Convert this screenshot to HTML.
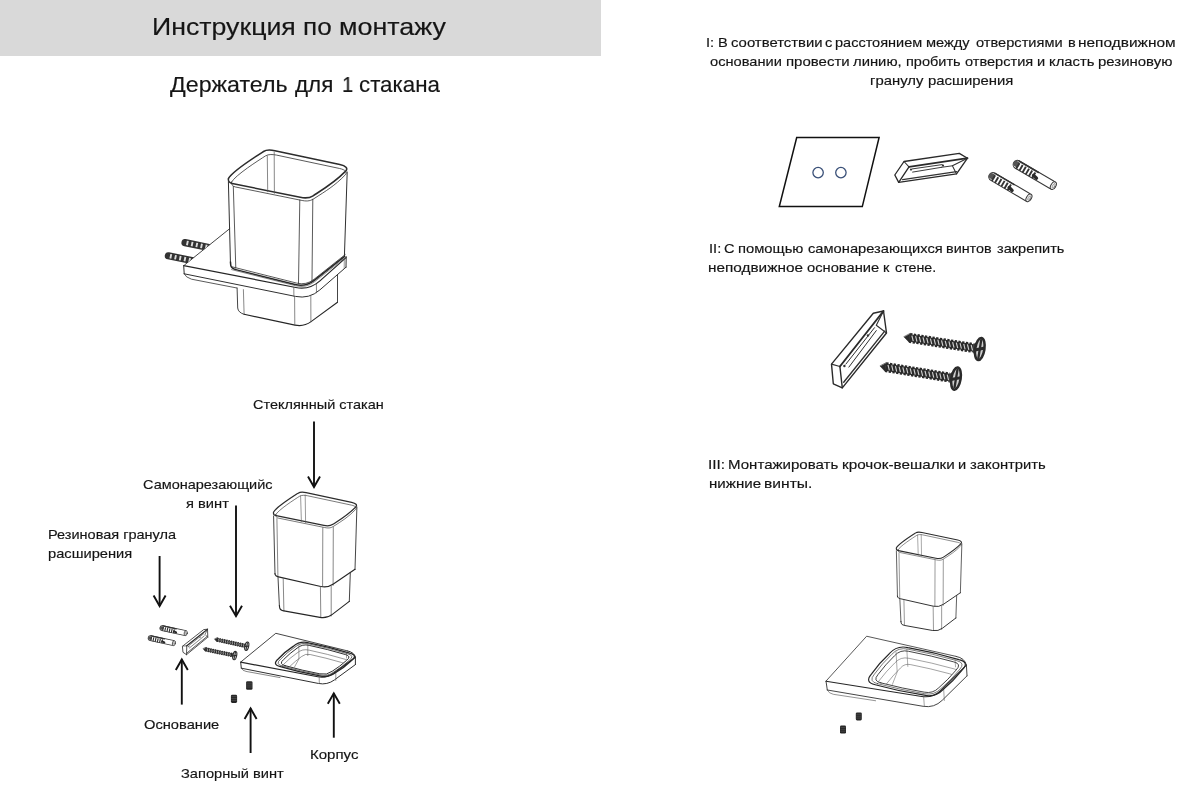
<!DOCTYPE html>
<html lang="ru">
<head>
<meta charset="utf-8">
<title>Инструкция по монтажу</title>
<style>
html,body{margin:0;padding:0;background:#fff;}
body{width:1178px;height:787px;position:relative;overflow:hidden;font-family:"Liberation Sans",sans-serif;}
.hd{position:absolute;left:0;top:0;width:601px;height:56px;background:#d9d9d9;}
.t{position:absolute;white-space:nowrap;transform-origin:0 0;font-family:"Liberation Sans",sans-serif;font-weight:400;will-change:transform;-webkit-text-stroke:0.16px currentColor;}
svg{position:absolute;left:0;top:0;}
</style>
</head>
<body>
<div class="hd"></div>
<svg width="1178" height="787" viewBox="0 0 1178 787" stroke-linecap="round" stroke-linejoin="round">
<path d="M314.0 421.4L314.0 487.0852137847791" stroke="#111" stroke-width="1.9" fill="none" stroke-linecap="butt"/>
<path d="M308.0 476.5852137847791L314.0 487.0852137847791L320.0 476.5852137847791" stroke="#111" stroke-width="1.9" fill="none" stroke-linejoin="miter" stroke-miterlimit="10" stroke-linecap="butt"/>
<path d="M236.0 505.5L236.0 616.1852137847791" stroke="#111" stroke-width="1.9" fill="none" stroke-linecap="butt"/>
<path d="M230.0 605.6852137847791L236.0 616.1852137847791L242.0 605.6852137847791" stroke="#111" stroke-width="1.9" fill="none" stroke-linejoin="miter" stroke-miterlimit="10" stroke-linecap="butt"/>
<path d="M159.6 556.0L159.6 605.985213784779" stroke="#111" stroke-width="1.9" fill="none" stroke-linecap="butt"/>
<path d="M153.6 595.485213784779L159.6 605.985213784779L165.6 595.485213784779" stroke="#111" stroke-width="1.9" fill="none" stroke-linejoin="miter" stroke-miterlimit="10" stroke-linecap="butt"/>
<path d="M181.8 704.6L181.8 659.4147862152209" stroke="#111" stroke-width="1.9" fill="none" stroke-linecap="butt"/>
<path d="M175.8 669.9147862152209L181.8 659.4147862152209L187.8 669.9147862152209" stroke="#111" stroke-width="1.9" fill="none" stroke-linejoin="miter" stroke-miterlimit="10" stroke-linecap="butt"/>
<path d="M250.6 753.0L250.6 708.4147862152209" stroke="#111" stroke-width="1.9" fill="none" stroke-linecap="butt"/>
<path d="M244.6 718.9147862152209L250.6 708.4147862152209L256.6 718.9147862152209" stroke="#111" stroke-width="1.9" fill="none" stroke-linejoin="miter" stroke-miterlimit="10" stroke-linecap="butt"/>
<path d="M333.8 737.7L333.8 693.3147862152209" stroke="#111" stroke-width="1.9" fill="none" stroke-linecap="butt"/>
<path d="M327.8 703.8147862152209L333.8 693.3147862152209L339.8 703.8147862152209" stroke="#111" stroke-width="1.9" fill="none" stroke-linejoin="miter" stroke-miterlimit="10" stroke-linecap="butt"/>
<path d="M228.4 178.6C232 171.5 256.8 155.8 263.5 151.5C266.4 149.6 271.5 150 274.9 150.7L339.8 164.5C345.6 165.7 348.6 168.4 345.4 171.4C335 182.2 325.7 187.7 313.1 195.8C308.9 198.5 305.1 198.3 300.2 197.3L232.2 183.5C229.75 183 228 181 228.4 178.6Z" stroke="#2c2c2c" stroke-width="1.55" fill="none" />
<path d="M231.49 182.16C234.98 175.27 259.04 160.05 265.54 155.88C268.35 154.03 273.3 154.42 276.59 155.1L339.55 168.48C345.17 169.65 348.08 172.27 344.98 175.18C334.89 185.65 325.87 190.99 313.65 198.85C309.57 201.46 305.89 201.27 301.13 200.3L235.17 186.91C232.8 186.43 231.1 184.49 231.49 182.16Z" stroke="#303030" stroke-width="0.8" fill="none" />
<path d="M267.3 156L267.7 191.8" stroke="#555" stroke-width="0.7" fill="none" />
<path d="M274.2 152.2L274.4 193.3" stroke="#555" stroke-width="0.7" fill="none" />
<path d="M228.4 181.6L230.5 265" stroke="#303030" stroke-width="1.0" fill="none" />
<path d="M233.3 186.4L235.8 268" stroke="#303030" stroke-width="0.8" fill="none" />
<path d="M299.8 200L298.5 283.5" stroke="#303030" stroke-width="0.8" fill="none" />
<path d="M312.8 199.2L312 281.5" stroke="#303030" stroke-width="0.8" fill="none" />
<path d="M347.2 172L344.4 256.5" stroke="#303030" stroke-width="1.0" fill="none" />
<path d="M230.5 262L230.75 265.2Q231 268.4 236.82 269.87L294.93 284.51Q305.6 287.2 314.22 280.37L344.6 256.3" stroke="#262626" stroke-width="1.5" fill="none" />
<path d="M231.6 266.7L296.5 283.06Q306.2 285.5 314.04 279.29L345.2 254.6" stroke="#303030" stroke-width="0.8" fill="none" />
<path d="M231.6 269.6L295.53 285.71Q306.2 288.4 314.82 281.57L345.2 257.5" stroke="#555" stroke-width="0.7" fill="none" />
<path d="M229.8 228.6L184.6 264.9" stroke="#303030" stroke-width="0.9" fill="none" />
<path d="M183.7 265.6L295.76 287.51Q309.5 290.2 319.94 280.87L346 257.6" stroke="#262626" stroke-width="1.2" fill="none" />
<path d="M184.2 273.8L295.48 296.41Q309.2 299.2 319.76 290.01L346 267.2" stroke="#303030" stroke-width="1.0" fill="none" />
<path d="M183.7 265.6L184.2 273.8" stroke="#303030" stroke-width="1.0" fill="none" />
<path d="M346.2 256.6L346 267.4" stroke="#303030" stroke-width="1.0" fill="none" />
<path d="M344.3 259L344.2 268.6" stroke="#555" stroke-width="0.6" fill="none" />
<path d="M184.3 274.0Q185.5 277.3 191.5 279.2L236.9 288.0" stroke="#303030" stroke-width="0.8" fill="none" />
<path d="M293.8 287.4L293.9 296.2" stroke="#555" stroke-width="0.7" fill="none" />
<path d="M316.4 284.3L316.5 292.8" stroke="#555" stroke-width="0.7" fill="none" />
<path d="M237.1 288.0L237.7 308.0Q238.2 312.6 244.1 314.3" stroke="#303030" stroke-width="0.9" fill="none" />
<path d="M243.4 289.6L244.1 314.3" stroke="#555" stroke-width="0.7" fill="none" />
<path d="M244.1 314.3L295 325.13Q303.8 327 311.06 321.68L337.5 302.3" stroke="#262626" stroke-width="1.1" fill="none" />
<path d="M337.5 274.6L337.5 302.3" stroke="#303030" stroke-width="0.9" fill="none" />
<path d="M294.6 296.4L294.8 325" stroke="#555" stroke-width="0.7" fill="none" />
<path d="M310.8 295.6L310.9 321.8" stroke="#555" stroke-width="0.7" fill="none" />
<clipPath id="cpa"><path d="M236.0 223.6L178.4 269.9L100 300L100 200Z"/></clipPath>
<g clip-path="url(#cpa)">
<path d="M185 242.6L210 247.7" stroke="#333" stroke-width="7.2" fill="none" stroke-linecap="round"/>
<path d="M186.47 242.9L210 247.7" stroke="#dcdcdc" stroke-width="4.4" fill="none" stroke-linecap="butt" stroke-dasharray="1.9 2.9"/>
<path d="M168.4 255.8L193 260.8" stroke="#333" stroke-width="7.2" fill="none" stroke-linecap="round"/>
<path d="M169.87 256.1L193 260.8" stroke="#dcdcdc" stroke-width="4.4" fill="none" stroke-linecap="butt" stroke-dasharray="1.9 2.9"/>
</g>
<path d="M273.5 512.25C276.03 507.25 293.42 496.2 298.12 493.17C300.15 491.84 303.73 492.12 306.12 492.61L351.64 502.32C355.71 503.17 357.81 505.07 355.57 507.18C348.27 514.78 341.75 518.65 332.91 524.35C329.97 526.25 327.3 526.11 323.86 525.41L276.17 515.7C274.45 515.34 273.22 513.94 273.5 512.25Z" stroke="#2c2c2c" stroke-width="1.2400000000000002" fill="none" />
<path d="M275.67 514.75C278.12 509.91 294.99 499.19 299.55 496.25C301.52 494.96 304.99 495.23 307.3 495.71L351.46 505.13C355.41 505.95 357.45 507.79 355.27 509.84C348.2 517.21 341.87 520.97 333.29 526.5C330.44 528.34 327.85 528.2 324.52 527.52L278.25 518.1C276.58 517.76 275.39 516.39 275.67 514.75Z" stroke="#303030" stroke-width="0.6400000000000001" fill="none" />
<path d="M300.6 496L301.4 521.5" stroke="#555" stroke-width="0.6" fill="none" />
<path d="M305.2 495L305.6 522.6" stroke="#555" stroke-width="0.6" fill="none" />
<path d="M273.6 516L275 574" stroke="#303030" stroke-width="0.9" fill="none" />
<path d="M276.9 518.6L277.9 576" stroke="#555" stroke-width="0.7" fill="none" />
<path d="M322.8 527.6L322.6 586.2" stroke="#555" stroke-width="0.7" fill="none" />
<path d="M333.3 527L333.1 585.4" stroke="#555" stroke-width="0.7" fill="none" />
<path d="M356.9 507L355 569.5" stroke="#303030" stroke-width="0.9" fill="none" />
<path d="M275 573.6L275.3 574.9Q275.6 576.2 278.53 576.86L320.77 586.45Q327.6 588 333.38 584.05L355 569.3" stroke="#262626" stroke-width="1.1" fill="none" />
<path d="M278 577L279.4 606" stroke="#303030" stroke-width="0.9" fill="none" />
<path d="M283.2 578.4L283.9 611" stroke="#555" stroke-width="0.7" fill="none" />
<path d="M320.4 586.4L320.8 616.8" stroke="#555" stroke-width="0.7" fill="none" />
<path d="M331.2 586L331.2 616" stroke="#555" stroke-width="0.7" fill="none" />
<path d="M350.3 572.8L349.3 601.6" stroke="#303030" stroke-width="0.9" fill="none" />
<path d="M279.4 605.6L279.7 607.9Q280 610.2 283.94 610.91L319.91 617.36Q326.8 618.6 332.36 614.35L349.3 601.4" stroke="#262626" stroke-width="1.1" fill="none" />
<path d="M240.8 662L275.8 633.3L347.5 650.9" stroke="#303030" stroke-width="0.9" fill="none" />
<path d="M240.7 662.2L317.76 676.73Q326.6 678.4 333.85 673.06L355.4 657.2" stroke="#262626" stroke-width="1.2" fill="none" />
<path d="M241.3 668.2L318.37 683.45Q327.2 685.2 334.47 679.89L355.4 664.6" stroke="#303030" stroke-width="1.0" fill="none" />
<path d="M240.7 662.2L241.3 668.2" stroke="#303030" stroke-width="1.0" fill="none" />
<path d="M347.5 650.9Q354.6 652.4 355.4 657.2" stroke="#303030" stroke-width="1.0" fill="none" />
<path d="M355.4 657.2L355.4 664.6" stroke="#303030" stroke-width="1.0" fill="none" />
<path d="M319.2 677L319.3 683.6" stroke="#555" stroke-width="0.6" fill="none" />
<path d="M335.8 672.2L335.8 680.4" stroke="#555" stroke-width="0.6" fill="none" />
<path d="M241.4 668.4Q242.4 670.6 246 671.4 L280 677.6" stroke="#555" stroke-width="0.7" fill="none" />
<path d="M280.36 666.66Q271.6 664.6 278.47 658.79Q285.03 651.68 293.13 646.41Q300 640.6 308.72 642.81Q329.49 646.84 349.68 653.19Q358.4 655.4 351.23 660.84Q344.23 667.66 335.77 672.56Q328.6 678 319.84 675.94Q299.83 672.47 280.36 666.66Z" stroke="#262626" stroke-width="1.3" fill="none" />
<path d="M282.4 666.08Q274.61 664.25 280.72 659.09Q287.17 652.33 294.92 647.1Q301.03 641.93 308.78 643.9Q328.43 647.85 347.58 653.73Q355.34 655.7 348.96 660.53Q342.08 667 334 671.88Q327.62 676.72 319.84 674.88Q300.89 671.46 282.4 666.08Z" stroke="#303030" stroke-width="0.7" fill="none" />
<path d="M285.07 665.66Q278.26 664.06 283.6 659.54Q289.81 653.25 297.05 648.18Q302.4 643.66 309.18 645.38Q327.41 649.17 345.25 654.52Q352.04 656.24 346.46 660.47Q339.86 666.48 332.28 671.22Q326.71 675.45 319.89 673.85Q302.3 670.53 285.07 665.66Z" stroke="#303030" stroke-width="1.0" fill="none" />
<path d="M285.07 670.46Q278.26 668.86 283.6 664.34Q289.81 658.05 297.05 652.98Q302.4 648.46 309.18 650.18Q327.41 653.97 345.25 659.32Q352.04 661.04 346.46 665.27Q339.86 671.28 332.28 676.02Q326.71 680.25 319.89 678.65Q302.3 675.33 285.07 670.46Z" stroke="#555" stroke-width="0.6" fill="none" clip-path="url(#cp0)"/>
<clipPath id="cp0"><path d="M285.07 665.66Q278.26 664.06 283.6 659.54Q289.81 653.25 297.05 648.18Q302.4 643.66 309.18 645.38Q327.41 649.17 345.25 654.52Q352.04 656.24 346.46 660.47Q339.86 666.48 332.28 671.22Q326.71 675.45 319.89 673.85Q302.3 670.53 285.07 665.66Z"/></clipPath>
<path d="M290.38 671.26Q285.51 670.12 289.33 666.89Q295.07 661.26 301.58 656.54Q305.39 653.32 310.24 654.54Q325.98 657.91 341.43 662.45Q346.27 663.67 342.29 666.7Q336.21 672.06 329.4 676.47Q325.42 679.5 320.55 678.35Q305.33 675.39 290.38 671.26Z" stroke="#555" stroke-width="0.6" fill="none" clip-path="url(#cp0)"/>
<path d="M298.9 645.2L298.9 659L294.4 667.2" stroke="#555" stroke-width="0.55" fill="none" />
<path d="M307.8 644L307.8 655.6" stroke="#555" stroke-width="0.55" fill="none" />
<path d="M346.5 653L346.5 658" stroke="#555" stroke-width="0.55" fill="none" />
<rect x="246.1" y="681.3" width="6.4" height="8.4" rx="1.3" fill="#262626"/>
<path d="M246.9 683.2L251.7 683.2" stroke="#6a6a6a" stroke-width="0.45" fill="none" />
<path d="M246.9 685.1L251.7 685.1" stroke="#6a6a6a" stroke-width="0.45" fill="none" />
<path d="M246.9 687L251.7 687" stroke="#6a6a6a" stroke-width="0.45" fill="none" />
<rect x="230.9" y="694.7" width="6.2" height="8.2" rx="1.3" fill="#262626"/>
<path d="M231.7 696.6L236.3 696.6" stroke="#6a6a6a" stroke-width="0.45" fill="none" />
<path d="M231.7 698.5L236.3 698.5" stroke="#6a6a6a" stroke-width="0.45" fill="none" />
<path d="M231.7 700.4L236.3 700.4" stroke="#6a6a6a" stroke-width="0.45" fill="none" />
<path d="M162.44 628.2L184.46 632.9" stroke="#383838" stroke-width="5.8" fill="none" stroke-linecap="round"/>
<path d="M162.44 628.2L184.46 632.9" stroke="#fff" stroke-width="4.199999999999999" fill="none" stroke-linecap="round"/>
<ellipse cx="185.71" cy="633.16" rx="1.51" ry="2.5" transform="rotate(12.02 185.71 633.16)" fill="#fff" stroke="#383838" stroke-width="0.8"/>
<ellipse cx="185.94" cy="633.21" rx="0.7" ry="1.57" transform="rotate(12.02 185.94 633.21)" fill="#e4e4e4" stroke="#777" stroke-width="0.48"/>
<path d="M161.53 628.01L161.87 628.08" stroke="#555" stroke-width="3.596" fill="none" stroke-linecap="round"/>
<path d="M162.43 628.8L175.53 631.59" stroke="#343434" stroke-width="4.06" fill="none" stroke-linecap="butt" stroke-dasharray="1.16 1.07"/>
<path d="M162.91 625.99L176.12 628.81" stroke="#333" stroke-width="1.2800000000000002" fill="none" />
<path d="M173.97 631.37L176.05 632.41" stroke="#2a2a2a" stroke-width="2.088" fill="none" stroke-linecap="round"/>
<path d="M150.64 638.2L172.66 642.9" stroke="#383838" stroke-width="5.8" fill="none" stroke-linecap="round"/>
<path d="M150.64 638.2L172.66 642.9" stroke="#fff" stroke-width="4.199999999999999" fill="none" stroke-linecap="round"/>
<ellipse cx="173.91" cy="643.16" rx="1.51" ry="2.5" transform="rotate(12.02 173.91 643.16)" fill="#fff" stroke="#383838" stroke-width="0.8"/>
<ellipse cx="174.14" cy="643.21" rx="0.7" ry="1.57" transform="rotate(12.02 174.14 643.21)" fill="#e4e4e4" stroke="#777" stroke-width="0.48"/>
<path d="M149.73 638.01L150.07 638.08" stroke="#555" stroke-width="3.596" fill="none" stroke-linecap="round"/>
<path d="M150.63 638.8L163.73 641.59" stroke="#343434" stroke-width="4.06" fill="none" stroke-linecap="butt" stroke-dasharray="1.16 1.07"/>
<path d="M151.11 635.99L164.32 638.81" stroke="#333" stroke-width="1.2800000000000002" fill="none" />
<path d="M162.17 641.37L164.25 642.41" stroke="#2a2a2a" stroke-width="2.088" fill="none" stroke-linecap="round"/>
<path d="M182.7 646.1L203.7 629.6L207.5 629.2L207.8 637.2L186.5 654.7L183.3 652.5Z" stroke="#2a2a2a" stroke-width="0.8119999999999999" fill="none" />
<path d="M186.8 645.8L207.5 629.2" stroke="#2a2a2a" stroke-width="1.1019999999999999" fill="none" />
<path d="M182.7 646.1L186.8 645.8" stroke="#303030" stroke-width="0.638" fill="none" />
<path d="M186.8 645.8L186.5 654.7" stroke="#2a2a2a" stroke-width="0.8119999999999999" fill="none" />
<path d="M207.5 629.2L205 634.4L207.8 637.2" stroke="#303030" stroke-width="0.638" fill="none" />
<path d="M187.4 652.58L207.12 636.44" stroke="#333" stroke-width="0.8119999999999999" fill="none" />
<path d="M189 645.5L203.7 633.7" stroke="#303030" stroke-width="0.58" fill="none" />
<path d="M189.4 648L204.3 635.9" stroke="#303030" stroke-width="0.58" fill="none" />
<circle cx="188.8" cy="646.6" r="0.55" fill="#333"/>
<circle cx="200" cy="637.2" r="0.55" fill="#333"/>
<path d="M214.7 639.2L216.63 641.47L217.4 637.94Z" stroke="#2b2b2b" stroke-width="0.6" fill="#2b2b2b" />
<path d="M243.69 647.11L246.02 649.77L247.58 642.63L244.35 644.08Z" stroke="#2b2b2b" stroke-width="0.5" fill="#3a3a3a" />
<path d="M217.01 639.7L244.02 645.59" stroke="#2b2b2b" stroke-width="3.182" fill="none" stroke-linecap="butt"/>
<path d="M217.01 639.7L244.02 645.59" stroke="#2b2b2b" stroke-width="4.3" fill="none" stroke-linecap="butt" stroke-dasharray="1.43 0.87"/>
<path d="M219.08 641.3L218.63 638.91" stroke="#d2d2d2" stroke-width="0.69" fill="none" stroke-linecap="butt"/>
<path d="M221.32 641.79L220.88 639.4" stroke="#d2d2d2" stroke-width="0.69" fill="none" stroke-linecap="butt"/>
<path d="M223.57 642.28L223.12 639.89" stroke="#d2d2d2" stroke-width="0.69" fill="none" stroke-linecap="butt"/>
<path d="M225.82 642.77L225.37 640.38" stroke="#d2d2d2" stroke-width="0.69" fill="none" stroke-linecap="butt"/>
<path d="M228.07 643.26L227.62 640.87" stroke="#d2d2d2" stroke-width="0.69" fill="none" stroke-linecap="butt"/>
<path d="M230.31 643.75L229.87 641.36" stroke="#d2d2d2" stroke-width="0.69" fill="none" stroke-linecap="butt"/>
<path d="M232.56 644.24L232.11 641.85" stroke="#d2d2d2" stroke-width="0.69" fill="none" stroke-linecap="butt"/>
<path d="M234.81 644.73L234.36 642.34" stroke="#d2d2d2" stroke-width="0.69" fill="none" stroke-linecap="butt"/>
<path d="M237.05 645.22L236.61 642.83" stroke="#d2d2d2" stroke-width="0.69" fill="none" stroke-linecap="butt"/>
<path d="M239.3 645.71L238.85 643.32" stroke="#d2d2d2" stroke-width="0.69" fill="none" stroke-linecap="butt"/>
<path d="M241.55 646.2L241.1 643.81" stroke="#d2d2d2" stroke-width="0.69" fill="none" stroke-linecap="butt"/>
<path d="M243.8 646.69L243.35 644.3" stroke="#d2d2d2" stroke-width="0.69" fill="none" stroke-linecap="butt"/>
<ellipse cx="246.8" cy="646.2" rx="1.9" ry="4.3" transform="rotate(12.3 246.8 646.2)" fill="#cfcfcf" stroke="#2b2b2b" stroke-width="1.04"/>
<path d="M246.07 649.56L247.53 642.84" stroke="#2b2b2b" stroke-width="0.95" fill="none" />
<path d="M248.4 646.02L245.2 646.38" stroke="#2b2b2b" stroke-width="1.2349999999999999" fill="none" />
<path d="M203.3 648.9L205.24 651.16L205.99 647.63Z" stroke="#2b2b2b" stroke-width="0.6" fill="#2b2b2b" />
<path d="M231.69 656.52L234.04 659.18L235.56 652.02L232.33 653.49Z" stroke="#2b2b2b" stroke-width="0.5" fill="#3a3a3a" />
<path d="M205.61 649.39L232.01 655.01" stroke="#2b2b2b" stroke-width="3.182" fill="none" stroke-linecap="butt"/>
<path d="M205.61 649.39L232.01 655.01" stroke="#2b2b2b" stroke-width="4.3" fill="none" stroke-linecap="butt" stroke-dasharray="1.43 0.87"/>
<path d="M207.69 650.98L207.23 648.59" stroke="#d2d2d2" stroke-width="0.69" fill="none" stroke-linecap="butt"/>
<path d="M209.94 651.45L209.48 649.07" stroke="#d2d2d2" stroke-width="0.69" fill="none" stroke-linecap="butt"/>
<path d="M212.19 651.93L211.73 649.55" stroke="#d2d2d2" stroke-width="0.69" fill="none" stroke-linecap="butt"/>
<path d="M214.44 652.41L213.98 650.03" stroke="#d2d2d2" stroke-width="0.69" fill="none" stroke-linecap="butt"/>
<path d="M216.69 652.89L216.23 650.51" stroke="#d2d2d2" stroke-width="0.69" fill="none" stroke-linecap="butt"/>
<path d="M218.94 653.37L218.48 650.98" stroke="#d2d2d2" stroke-width="0.69" fill="none" stroke-linecap="butt"/>
<path d="M221.19 653.85L220.73 651.46" stroke="#d2d2d2" stroke-width="0.69" fill="none" stroke-linecap="butt"/>
<path d="M223.44 654.33L222.98 651.94" stroke="#d2d2d2" stroke-width="0.69" fill="none" stroke-linecap="butt"/>
<path d="M225.69 654.8L225.23 652.42" stroke="#d2d2d2" stroke-width="0.69" fill="none" stroke-linecap="butt"/>
<path d="M227.94 655.28L227.47 652.9" stroke="#d2d2d2" stroke-width="0.69" fill="none" stroke-linecap="butt"/>
<path d="M230.18 655.76L229.72 653.38" stroke="#d2d2d2" stroke-width="0.69" fill="none" stroke-linecap="butt"/>
<ellipse cx="234.8" cy="655.6" rx="1.9" ry="4.3" transform="rotate(12.01 234.8 655.6)" fill="#cfcfcf" stroke="#2b2b2b" stroke-width="1.04"/>
<path d="M234.08 658.96L235.52 652.24" stroke="#2b2b2b" stroke-width="0.95" fill="none" />
<path d="M236.39 655.41L233.21 655.79" stroke="#2b2b2b" stroke-width="1.2349999999999999" fill="none" />
<path d="M796.7 137.5L879.1 137.5L862.3 206.6L779.3 206.6Z" stroke="#111" stroke-width="1.5" fill="none" stroke-linejoin="miter"/>
<circle cx="818.1" cy="172.6" r="5.2" fill="none" stroke="#3a5078" stroke-width="1.3"/>
<circle cx="840.9" cy="172.6" r="5.2" fill="none" stroke="#3a5078" stroke-width="1.3"/>
<path d="M894.8 175L904 161.5L959.3 153.4L967.5 158.2L956.5 173.9L898.7 182.4Z" stroke="#2a2a2a" stroke-width="1.3299999999999998" fill="none" />
<path d="M909 166.8L967.5 158.2" stroke="#2a2a2a" stroke-width="1.805" fill="none" />
<path d="M904 161.5L909 166.8" stroke="#303030" stroke-width="1.045" fill="none" />
<path d="M909 166.8L898.7 182.4" stroke="#2a2a2a" stroke-width="1.3299999999999998" fill="none" />
<path d="M967.5 158.2L952.4 165.8L956.5 173.9" stroke="#303030" stroke-width="1.045" fill="none" />
<path d="M902.66 179.56L956.52 171.64" stroke="#333" stroke-width="1.3299999999999998" fill="none" />
<path d="M912.3 168.9L942.2 164.6" stroke="#303030" stroke-width="0.95" fill="none" />
<path d="M912.6 172.1L941.5 167.3" stroke="#303030" stroke-width="0.95" fill="none" />
<path d="M941.5 167.3L952.4 165.8" stroke="#303030" stroke-width="0.95" fill="none" />
<circle cx="911" cy="169.6" r="1.1" fill="#333"/>
<circle cx="943" cy="165.6" r="1.1" fill="#333"/>
<path d="M992.95 176.78L1027.15 196.82" stroke="#383838" stroke-width="9.4" fill="none" stroke-linecap="round"/>
<path d="M992.95 176.78L1027.15 196.82" stroke="#fff" stroke-width="7.4" fill="none" stroke-linecap="round"/>
<ellipse cx="1028.93" cy="197.87" rx="2.44" ry="4.2" transform="rotate(30.38 1028.93 197.87)" fill="#fff" stroke="#383838" stroke-width="1"/>
<ellipse cx="1029.25" cy="198.06" rx="1.13" ry="2.54" transform="rotate(30.38 1029.25 198.06)" fill="#e4e4e4" stroke="#777" stroke-width="0.6"/>
<path d="M991.66 176.02L992.14 176.3" stroke="#555" stroke-width="5.828" fill="none" stroke-linecap="round"/>
<path d="M992.64 177.68L1011.63 188.81" stroke="#343434" stroke-width="6.58" fill="none" stroke-linecap="butt" stroke-dasharray="1.91 1.76"/>
<path d="M994.93 173.41L1014.07 184.64" stroke="#333" stroke-width="1.6" fill="none" />
<path d="M1009.14 187.57L1012.08 190.39" stroke="#2a2a2a" stroke-width="3.384" fill="none" stroke-linecap="round"/>
<path d="M1017.35 164.58L1051.55 184.62" stroke="#383838" stroke-width="9.4" fill="none" stroke-linecap="round"/>
<path d="M1017.35 164.58L1051.55 184.62" stroke="#fff" stroke-width="7.4" fill="none" stroke-linecap="round"/>
<ellipse cx="1053.33" cy="185.67" rx="2.44" ry="4.2" transform="rotate(30.38 1053.33 185.67)" fill="#fff" stroke="#383838" stroke-width="1"/>
<ellipse cx="1053.65" cy="185.86" rx="1.13" ry="2.54" transform="rotate(30.38 1053.65 185.86)" fill="#e4e4e4" stroke="#777" stroke-width="0.6"/>
<path d="M1016.06 163.82L1016.54 164.1" stroke="#555" stroke-width="5.828" fill="none" stroke-linecap="round"/>
<path d="M1017.04 165.48L1036.03 176.61" stroke="#343434" stroke-width="6.58" fill="none" stroke-linecap="butt" stroke-dasharray="1.91 1.76"/>
<path d="M1019.33 161.21L1038.47 172.44" stroke="#333" stroke-width="1.6" fill="none" />
<path d="M1033.54 175.37L1036.48 178.19" stroke="#2a2a2a" stroke-width="3.384" fill="none" stroke-linecap="round"/>
<path d="M831.5 364.1L873.3 313.3L883.5 311L886.5 333L842.3 387.9L833.3 383.8Z" stroke="#2a2a2a" stroke-width="1.4" fill="none" />
<path d="M839.9 366.5L883.5 311" stroke="#2a2a2a" stroke-width="1.9" fill="none" />
<path d="M831.5 364.1L839.9 366.5" stroke="#303030" stroke-width="1.1" fill="none" />
<path d="M839.9 366.5L842.3 387.9" stroke="#2a2a2a" stroke-width="1.4" fill="none" />
<path d="M883.5 311L876.3 325.3L886.5 333" stroke="#303030" stroke-width="1.1" fill="none" />
<path d="M843.68 382.28L884.7 331.13" stroke="#333" stroke-width="1.4" fill="none" />
<path d="M845.9 364.1L874.5 327.7" stroke="#303030" stroke-width="1.0" fill="none" />
<path d="M848.9 367.1L876.3 330.6" stroke="#303030" stroke-width="1.0" fill="none" />
<circle cx="844.4" cy="366" r="1.2" fill="#333"/>
<circle cx="868" cy="335.4" r="1.2" fill="#333"/>
<path d="M904.1 337L908.87 342.01L910.19 333.71Z" stroke="#2b2b2b" stroke-width="0.6" fill="#2b2b2b" />
<path d="M972.42 351.48L978.31 358.4L981.29 339.6L973.55 344.36Z" stroke="#2b2b2b" stroke-width="0.5" fill="#3a3a3a" />
<path d="M909.53 337.86L972.99 347.92" stroke="#2b2b2b" stroke-width="7.4" fill="none" stroke-linecap="butt"/>
<path d="M909.53 337.86L972.99 347.92" stroke="#2b2b2b" stroke-width="10.0" fill="none" stroke-linecap="butt" stroke-dasharray="2.33 1.43"/>
<path d="M913.25 341.08L911.89 335.6" stroke="#d2d2d2" stroke-width="1.125" fill="none" stroke-linecap="butt"/>
<path d="M916.95 341.67L915.59 336.19" stroke="#d2d2d2" stroke-width="1.125" fill="none" stroke-linecap="butt"/>
<path d="M920.66 342.26L919.3 336.78" stroke="#d2d2d2" stroke-width="1.125" fill="none" stroke-linecap="butt"/>
<path d="M924.36 342.84L923 337.36" stroke="#d2d2d2" stroke-width="1.125" fill="none" stroke-linecap="butt"/>
<path d="M928.06 343.43L926.7 337.95" stroke="#d2d2d2" stroke-width="1.125" fill="none" stroke-linecap="butt"/>
<path d="M931.77 344.02L930.41 338.54" stroke="#d2d2d2" stroke-width="1.125" fill="none" stroke-linecap="butt"/>
<path d="M935.47 344.61L934.11 339.13" stroke="#d2d2d2" stroke-width="1.125" fill="none" stroke-linecap="butt"/>
<path d="M939.17 345.19L937.82 339.71" stroke="#d2d2d2" stroke-width="1.125" fill="none" stroke-linecap="butt"/>
<path d="M942.88 345.78L941.52 340.3" stroke="#d2d2d2" stroke-width="1.125" fill="none" stroke-linecap="butt"/>
<path d="M946.58 346.37L945.22 340.89" stroke="#d2d2d2" stroke-width="1.125" fill="none" stroke-linecap="butt"/>
<path d="M950.29 346.95L948.93 341.47" stroke="#d2d2d2" stroke-width="1.125" fill="none" stroke-linecap="butt"/>
<path d="M953.99 347.54L952.63 342.06" stroke="#d2d2d2" stroke-width="1.125" fill="none" stroke-linecap="butt"/>
<path d="M957.69 348.13L956.33 342.65" stroke="#d2d2d2" stroke-width="1.125" fill="none" stroke-linecap="butt"/>
<path d="M961.4 348.72L960.04 343.23" stroke="#d2d2d2" stroke-width="1.125" fill="none" stroke-linecap="butt"/>
<path d="M965.1 349.3L963.74 343.82" stroke="#d2d2d2" stroke-width="1.125" fill="none" stroke-linecap="butt"/>
<path d="M968.8 349.89L967.45 344.41" stroke="#d2d2d2" stroke-width="1.125" fill="none" stroke-linecap="butt"/>
<path d="M972.51 350.48L971.15 345" stroke="#d2d2d2" stroke-width="1.125" fill="none" stroke-linecap="butt"/>
<ellipse cx="979.8" cy="349" rx="4.6" ry="11.2" transform="rotate(9.01 979.8 349)" fill="#cfcfcf" stroke="#2b2b2b" stroke-width="2.53"/>
<path d="M978.4 357.85L981.2 340.15" stroke="#2b2b2b" stroke-width="2.3" fill="none" />
<path d="M983.65 348.25L975.95 349.75" stroke="#2b2b2b" stroke-width="2.9899999999999998" fill="none" />
<path d="M880.2 366.2L884.95 371.23L886.31 362.94Z" stroke="#2b2b2b" stroke-width="0.6" fill="#2b2b2b" />
<path d="M948.61 381.04L954.46 388L957.54 369.2L949.77 373.93Z" stroke="#2b2b2b" stroke-width="0.5" fill="#3a3a3a" />
<path d="M885.63 367.09L949.19 377.49" stroke="#2b2b2b" stroke-width="7.4" fill="none" stroke-linecap="butt"/>
<path d="M885.63 367.09L949.19 377.49" stroke="#2b2b2b" stroke-width="10.0" fill="none" stroke-linecap="butt" stroke-dasharray="2.33 1.43"/>
<path d="M889.33 370.33L888 364.84" stroke="#d2d2d2" stroke-width="1.125" fill="none" stroke-linecap="butt"/>
<path d="M893.03 370.93L891.7 365.45" stroke="#d2d2d2" stroke-width="1.125" fill="none" stroke-linecap="butt"/>
<path d="M896.73 371.54L895.4 366.05" stroke="#d2d2d2" stroke-width="1.125" fill="none" stroke-linecap="butt"/>
<path d="M900.43 372.14L899.1 366.66" stroke="#d2d2d2" stroke-width="1.125" fill="none" stroke-linecap="butt"/>
<path d="M904.13 372.75L902.8 367.26" stroke="#d2d2d2" stroke-width="1.125" fill="none" stroke-linecap="butt"/>
<path d="M907.83 373.35L906.5 367.87" stroke="#d2d2d2" stroke-width="1.125" fill="none" stroke-linecap="butt"/>
<path d="M911.53 373.96L910.2 368.47" stroke="#d2d2d2" stroke-width="1.125" fill="none" stroke-linecap="butt"/>
<path d="M915.23 374.57L913.9 369.08" stroke="#d2d2d2" stroke-width="1.125" fill="none" stroke-linecap="butt"/>
<path d="M918.93 375.17L917.6 369.68" stroke="#d2d2d2" stroke-width="1.125" fill="none" stroke-linecap="butt"/>
<path d="M922.64 375.78L921.3 370.29" stroke="#d2d2d2" stroke-width="1.125" fill="none" stroke-linecap="butt"/>
<path d="M926.34 376.38L925 370.89" stroke="#d2d2d2" stroke-width="1.125" fill="none" stroke-linecap="butt"/>
<path d="M930.04 376.99L928.71 371.5" stroke="#d2d2d2" stroke-width="1.125" fill="none" stroke-linecap="butt"/>
<path d="M933.74 377.59L932.41 372.11" stroke="#d2d2d2" stroke-width="1.125" fill="none" stroke-linecap="butt"/>
<path d="M937.44 378.2L936.11 372.71" stroke="#d2d2d2" stroke-width="1.125" fill="none" stroke-linecap="butt"/>
<path d="M941.14 378.8L939.81 373.32" stroke="#d2d2d2" stroke-width="1.125" fill="none" stroke-linecap="butt"/>
<path d="M944.84 379.41L943.51 373.92" stroke="#d2d2d2" stroke-width="1.125" fill="none" stroke-linecap="butt"/>
<path d="M948.54 380.01L947.21 374.53" stroke="#d2d2d2" stroke-width="1.125" fill="none" stroke-linecap="butt"/>
<ellipse cx="956" cy="378.6" rx="4.6" ry="11.2" transform="rotate(9.29 956 378.6)" fill="#cfcfcf" stroke="#2b2b2b" stroke-width="2.53"/>
<path d="M954.55 387.44L957.45 369.76" stroke="#2b2b2b" stroke-width="2.3" fill="none" />
<path d="M959.85 377.87L952.15 379.33" stroke="#2b2b2b" stroke-width="2.9899999999999998" fill="none" />
<path d="M896.3 547.9C898.28 543.97 911.96 535.29 915.65 532.91C917.25 531.86 920.06 532.08 921.94 532.47L957.72 540.1C960.92 540.76 962.57 542.26 960.8 543.92C955.07 549.89 949.94 552.93 943 557.41C940.68 558.91 938.59 558.8 935.89 558.24L898.4 550.61C897.04 550.33 896.08 549.23 896.3 547.9Z" stroke="#2c2c2c" stroke-width="1.054" fill="none" />
<path d="M898 549.87C899.93 546.06 913.19 537.64 916.77 535.33C918.32 534.31 921.05 534.52 922.87 534.9L957.58 542.3C960.68 542.95 962.28 544.4 960.57 546.01C955.01 551.8 950.04 554.75 943.3 559.1C941.05 560.55 939.02 560.44 936.4 559.9L900.03 552.5C898.72 552.23 897.79 551.16 898 549.87Z" stroke="#303030" stroke-width="0.544" fill="none" />
<path d="M917.6 535.13L918.23 555.17" stroke="#555" stroke-width="0.51" fill="none" />
<path d="M921.22 534.34L921.53 556.04" stroke="#555" stroke-width="0.51" fill="none" />
<path d="M896.38 550.85L897.48 596.44" stroke="#303030" stroke-width="0.765" fill="none" />
<path d="M898.97 552.89L899.76 598.01" stroke="#555" stroke-width="0.595" fill="none" />
<path d="M935.05 559.97L934.89 606.03" stroke="#555" stroke-width="0.595" fill="none" />
<path d="M943.3 559.5L943.15 605.4" stroke="#555" stroke-width="0.595" fill="none" />
<path d="M961.85 543.78L960.36 592.9" stroke="#303030" stroke-width="0.765" fill="none" />
<path d="M897.48 596.12L897.71 597.14Q897.95 598.17 900.25 598.69L933.46 606.22Q938.82 607.44 943.37 604.34L960.36 592.74" stroke="#262626" stroke-width="0.935" fill="none" />
<path d="M899.84 598.8L900.94 621.59" stroke="#303030" stroke-width="0.765" fill="none" />
<path d="M903.92 599.9L904.47 625.52" stroke="#555" stroke-width="0.595" fill="none" />
<path d="M933.16 606.18L933.48 630.08" stroke="#555" stroke-width="0.595" fill="none" />
<path d="M941.65 605.87L941.65 629.45" stroke="#555" stroke-width="0.595" fill="none" />
<path d="M956.66 595.49L955.88 618.13" stroke="#303030" stroke-width="0.765" fill="none" />
<path d="M900.94 621.28L901.17 623.08Q901.41 624.89 904.5 625.45L932.78 630.52Q938.19 631.49 942.56 628.15L955.88 617.97" stroke="#262626" stroke-width="0.935" fill="none" />
<path d="M826.15 680.95L866.63 636.23L956.15 656.41" stroke="#303030" stroke-width="0.81" fill="none" />
<path d="M826.04 681.26L921.76 696.51Q932.87 698.28 940.85 690.36L966.39 665.02" stroke="#262626" stroke-width="1.08" fill="none" />
<path d="M827.29 689.99L923.1 706.3Q934.19 708.19 942.21 700.3L967.03 675.85" stroke="#303030" stroke-width="0.9" fill="none" />
<path d="M826.04 681.26L827.29 689.99" stroke="#303030" stroke-width="0.9" fill="none" />
<path d="M956.15 656.41Q964.99 658.05 966.39 665.02" stroke="#303030" stroke-width="0.9" fill="none" />
<path d="M966.39 665.02L967.03 675.85" stroke="#303030" stroke-width="0.9" fill="none" />
<path d="M923.66 696.81L924.36 706.46" stroke="#555" stroke-width="0.54" fill="none" />
<path d="M943.62 688.49L944.33 700.5" stroke="#555" stroke-width="0.54" fill="none" />
<path d="M827.43 690.28Q828.85 693.42 833.34 694.31 L875.6 700.74" stroke="#555" stroke-width="0.63" fill="none" />
<path d="M875.17 684.71Q864.17 682.36 871.6 673.91Q879.44 662.71 889.54 653.48Q896.96 645.03 907.91 647.6Q933.78 652.13 958.96 659.58Q969.91 662.15 962.05 670.19Q953.67 680.89 943.15 689.5Q935.29 697.54 924.29 695.19Q899.42 691.42 875.17 684.71Z" stroke="#262626" stroke-width="1.1700000000000002" fill="none" />
<path d="M877.62 683.71Q867.84 681.62 874.44 674.11Q882.15 663.44 891.73 654.41Q898.33 646.9 908.07 649.18Q932.54 653.64 956.45 660.54Q966.18 662.82 959.19 669.97Q950.97 680.15 940.97 688.59Q933.98 695.74 924.2 693.65Q900.65 689.9 877.62 683.71Z" stroke="#303030" stroke-width="0.63" fill="none" />
<path d="M880.85 682.88Q872.3 681.05 878.07 674.48Q885.48 664.52 894.39 655.89Q900.17 649.32 908.68 651.32Q931.4 655.62 953.66 661.87Q962.18 663.87 956.06 670.12Q948.18 679.61 938.86 687.7Q932.74 693.95 924.19 692.13Q902.31 688.48 880.85 682.88Z" stroke="#303030" stroke-width="0.9" fill="none" />
<path d="M881.27 689.9Q872.71 688.08 878.48 681.5Q885.89 671.55 894.81 662.92Q900.58 656.34 909.1 658.34Q931.81 662.64 954.07 668.89Q962.59 670.89 956.47 677.15Q948.59 686.64 939.28 694.72Q933.16 700.98 924.6 699.15Q902.73 695.51 881.27 689.9Z" stroke="#555" stroke-width="0.54" fill="none" clip-path="url(#cp1)"/>
<clipPath id="cp1"><path d="M880.85 682.88Q872.3 681.05 878.07 674.48Q885.48 664.52 894.39 655.89Q900.17 649.32 908.68 651.32Q931.4 655.62 953.66 661.87Q962.18 663.87 956.06 670.12Q948.18 679.61 938.86 687.7Q932.74 693.95 924.19 692.13Q902.31 688.48 880.85 682.88Z"/></clipPath>
<path d="M887.84 690.66Q881.73 689.35 885.85 684.66Q892.64 675.79 900.55 667.91Q904.68 663.22 910.76 664.65Q930.38 668.48 949.66 673.77Q955.75 675.2 951.38 679.67Q944.16 688.11 935.88 695.51Q931.51 699.98 925.4 698.67Q906.46 695.4 887.84 690.66Z" stroke="#555" stroke-width="0.54" fill="none" clip-path="url(#cp1)"/>
<path d="M896.01 651.85L897.2 672.04L892.38 684.4" stroke="#555" stroke-width="0.49500000000000005" fill="none" />
<path d="M906.83 649.4L907.83 666.38" stroke="#555" stroke-width="0.49500000000000005" fill="none" />
<path d="M955.1 659.56L955.53 666.88" stroke="#555" stroke-width="0.49500000000000005" fill="none" />
<rect x="855.8" y="712.4" width="6.0" height="8.0" rx="1.3" fill="#262626"/>
<path d="M856.6 714.3L861 714.3" stroke="#6a6a6a" stroke-width="0.45" fill="none" />
<path d="M856.6 716.2L861 716.2" stroke="#6a6a6a" stroke-width="0.45" fill="none" />
<path d="M856.6 718.1L861 718.1" stroke="#6a6a6a" stroke-width="0.45" fill="none" />
<rect x="840" y="725.5" width="6.0" height="8.0" rx="1.3" fill="#262626"/>
<path d="M840.8 727.4L845.2 727.4" stroke="#6a6a6a" stroke-width="0.45" fill="none" />
<path d="M840.8 729.3L845.2 729.3" stroke="#6a6a6a" stroke-width="0.45" fill="none" />
<path d="M840.8 731.2L845.2 731.2" stroke="#6a6a6a" stroke-width="0.45" fill="none" />
</svg>
<div class="t" style="left:152.33px;top:13.00px;font-size:24.6px;line-height:27px;color:#151515;transform:scaleX(1.0860)">Инструкция</div>
<div class="t" style="left:302.98px;top:13.00px;font-size:24.6px;line-height:27px;color:#151515;transform:scaleX(1.0612)">по</div>
<div class="t" style="left:339.12px;top:13.00px;font-size:24.6px;line-height:27px;color:#151515;transform:scaleX(1.0926)">монтажу</div>
<div class="t" style="left:170.47px;top:72.00px;font-size:22.0px;line-height:25px;color:#151515;transform:scaleX(1.0552)">Держатель</div>
<div class="t" style="left:295.27px;top:72.00px;font-size:22.0px;line-height:25px;color:#151515;transform:scaleX(1.0194)">для</div>
<div class="t" style="left:341.51px;top:72.00px;font-size:22.0px;line-height:25px;color:#151515;transform:scaleX(0.9143)">1</div>
<div class="t" style="left:359.11px;top:72.00px;font-size:22.0px;line-height:25px;color:#151515;transform:scaleX(1.0139)">стакана</div>
<div class="t" style="left:706.36px;top:35.00px;font-size:13.3px;line-height:15px;color:#151515;transform:scaleX(1.1000)">I:</div>
<div class="t" style="left:718.01px;top:35.00px;font-size:13.3px;line-height:15px;color:#151515;transform:scaleX(1.1000)">В</div>
<div class="t" style="left:731.34px;top:35.00px;font-size:13.3px;line-height:15px;color:#151515;transform:scaleX(1.1195)">соответствии</div>
<div class="t" style="left:824.62px;top:35.00px;font-size:13.3px;line-height:15px;color:#151515;transform:scaleX(1.1000)">с</div>
<div class="t" style="left:835.18px;top:35.00px;font-size:13.3px;line-height:15px;color:#151515;transform:scaleX(1.0910)">расстоянием</div>
<div class="t" style="left:925.94px;top:35.00px;font-size:13.3px;line-height:15px;color:#151515;transform:scaleX(1.1003)">между</div>
<div class="t" style="left:975.55px;top:35.00px;font-size:13.3px;line-height:15px;color:#151515;transform:scaleX(1.0982)">отверстиями</div>
<div class="t" style="left:1067.74px;top:35.00px;font-size:13.3px;line-height:15px;color:#151515;transform:scaleX(1.1000)">в</div>
<div class="t" style="left:1077.98px;top:35.00px;font-size:13.3px;line-height:15px;color:#151515;transform:scaleX(1.1610)">неподвижном</div>
<div class="t" style="left:709.65px;top:54.00px;font-size:13.3px;line-height:15px;color:#151515;transform:scaleX(1.1002)">основании</div>
<div class="t" style="left:786.01px;top:54.00px;font-size:13.3px;line-height:15px;color:#151515;transform:scaleX(1.1284)">провести</div>
<div class="t" style="left:853.30px;top:54.00px;font-size:13.3px;line-height:15px;color:#151515;transform:scaleX(1.1148)">линию,</div>
<div class="t" style="left:905.75px;top:54.00px;font-size:13.3px;line-height:15px;color:#151515;transform:scaleX(1.0907)">пробить</div>
<div class="t" style="left:965.15px;top:54.00px;font-size:13.3px;line-height:15px;color:#151515;transform:scaleX(1.0947)">отверстия</div>
<div class="t" style="left:1036.84px;top:54.00px;font-size:13.3px;line-height:15px;color:#151515;transform:scaleX(1.1000)">и</div>
<div class="t" style="left:1048.93px;top:54.00px;font-size:13.3px;line-height:15px;color:#151515;transform:scaleX(1.1134)">класть</div>
<div class="t" style="left:1097.66px;top:54.00px;font-size:13.3px;line-height:15px;color:#151515;transform:scaleX(1.1243)">резиновую</div>
<div class="t" style="left:869.82px;top:73.00px;font-size:13.3px;line-height:15px;color:#151515;transform:scaleX(1.1166)">гранулу</div>
<div class="t" style="left:927.76px;top:73.00px;font-size:13.3px;line-height:15px;color:#151515;transform:scaleX(1.1195)">расширения</div>
<div class="t" style="left:708.90px;top:241.00px;font-size:13.3px;line-height:15px;color:#151515;transform:scaleX(1.1000)">II:</div>
<div class="t" style="left:723.84px;top:241.00px;font-size:13.3px;line-height:15px;color:#151515;transform:scaleX(1.1000)">С</div>
<div class="t" style="left:738.43px;top:241.00px;font-size:13.3px;line-height:15px;color:#151515;transform:scaleX(1.1096)">помощью</div>
<div class="t" style="left:808.15px;top:241.00px;font-size:13.3px;line-height:15px;color:#151515;transform:scaleX(1.1044)">самонарезающихся</div>
<div class="t" style="left:946.15px;top:241.00px;font-size:13.3px;line-height:15px;color:#151515;transform:scaleX(1.0806)">винтов</div>
<div class="t" style="left:997.23px;top:241.00px;font-size:13.3px;line-height:15px;color:#151515;transform:scaleX(1.0914)">закрепить</div>
<div class="t" style="left:708.49px;top:260.00px;font-size:13.3px;line-height:15px;color:#151515;transform:scaleX(1.1535)">неподвижное</div>
<div class="t" style="left:807.05px;top:260.00px;font-size:13.3px;line-height:15px;color:#151515;transform:scaleX(1.1062)">основание</div>
<div class="t" style="left:883.19px;top:260.00px;font-size:13.3px;line-height:15px;color:#151515;transform:scaleX(1.1000)">к</div>
<div class="t" style="left:894.76px;top:260.00px;font-size:13.3px;line-height:15px;color:#151515;transform:scaleX(1.0730)">стене.</div>
<div class="t" style="left:708.20px;top:457.00px;font-size:13.3px;line-height:15px;color:#151515;transform:scaleX(1.1556)">III:</div>
<div class="t" style="left:728.47px;top:457.00px;font-size:13.3px;line-height:15px;color:#151515;transform:scaleX(1.1325)">Монтажировать</div>
<div class="t" style="left:841.70px;top:457.00px;font-size:13.3px;line-height:15px;color:#151515;transform:scaleX(1.1475)">крочок-вешалки</div>
<div class="t" style="left:957.99px;top:457.00px;font-size:13.3px;line-height:15px;color:#151515;transform:scaleX(1.1000)">и</div>
<div class="t" style="left:970.42px;top:457.00px;font-size:13.3px;line-height:15px;color:#151515;transform:scaleX(1.1128)">законтрить</div>
<div class="t" style="left:708.51px;top:476.00px;font-size:13.3px;line-height:15px;color:#151515;transform:scaleX(1.1367)">нижние</div>
<div class="t" style="left:763.87px;top:476.00px;font-size:13.3px;line-height:15px;color:#151515;transform:scaleX(1.1744)">винты.</div>
<div class="t" style="left:253.32px;top:397.00px;font-size:13.3px;line-height:15px;color:#151515;transform:scaleX(1.0884)">Стеклянный стакан</div>
<div class="t" style="left:143.02px;top:477.00px;font-size:13.3px;line-height:15px;color:#151515;transform:scaleX(1.0902)">Самонарезающийс</div>
<div class="t" style="left:186.00px;top:496.00px;font-size:13.3px;line-height:15px;color:#151515;transform:scaleX(1.1039)">я винт</div>
<div class="t" style="left:47.71px;top:527.00px;font-size:13.3px;line-height:15px;color:#151515;transform:scaleX(1.0914)">Резиновая гранула</div>
<div class="t" style="left:47.97px;top:546.00px;font-size:13.3px;line-height:15px;color:#151515;transform:scaleX(1.1047)">расширения</div>
<div class="t" style="left:144.41px;top:717.00px;font-size:13.3px;line-height:15px;color:#151515;transform:scaleX(1.1036)">Основание</div>
<div class="t" style="left:309.67px;top:747.00px;font-size:13.3px;line-height:15px;color:#151515;transform:scaleX(1.1301)">Корпус</div>
<div class="t" style="left:180.59px;top:766.00px;font-size:13.3px;line-height:15px;color:#151515;transform:scaleX(1.1005)">Запорный винт</div>
</body>
</html>
